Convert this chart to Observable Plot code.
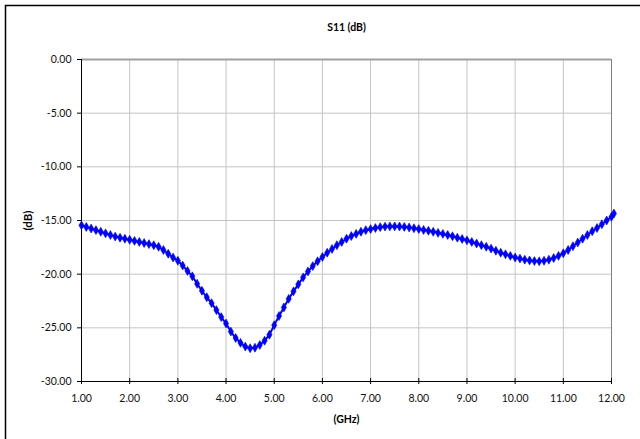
<!DOCTYPE html>
<html>
<head>
<meta charset="utf-8">
<script src="https://cdn.jsdelivr.net/npm/d3@7"></script>
<script src="https://cdn.jsdelivr.net/npm/@observablehq/plot@0.6"></script>
<style>
  html, body { margin: 0; padding: 0; background: #fff; }
  #chart svg { display: block; }
</style>
</head>
<body>
<div id="chart"></div>
<script>
const title = "S11 (dB)";
const xLabel = "(GHz)";
const yLabel = "(dB)";
const xTicks = [1, 2, 3, 4, 5, 6, 7, 8, 9, 10, 11, 12];
const yTicks = [0, -5, -10, -15, -20, -25, -30];
const xDomain = [1, 12];
const yDomain = [-30, 0];

const freqGHz = [
  1.0, 1.1, 1.2, 1.3, 1.4, 1.5, 1.6, 1.7, 1.8, 1.9,
  2.0, 2.1, 2.2, 2.3, 2.4, 2.5, 2.6, 2.7, 2.8, 2.9,
  3.0, 3.1, 3.2, 3.3, 3.4, 3.5, 3.6, 3.7, 3.8, 3.9,
  4.0, 4.1, 4.2, 4.3, 4.4, 4.5, 4.6, 4.7, 4.8, 4.9,
  5.0, 5.1, 5.2, 5.3, 5.4, 5.5, 5.6, 5.7, 5.8, 5.9,
  6.0, 6.1, 6.2, 6.3, 6.4, 6.5, 6.6, 6.7, 6.8, 6.9,
  7.0, 7.1, 7.2, 7.3, 7.4, 7.5, 7.6, 7.7, 7.8, 7.9,
  8.0, 8.1, 8.2, 8.3, 8.4, 8.5, 8.6, 8.7, 8.8, 8.9,
  9.0, 9.1, 9.2, 9.3, 9.4, 9.5, 9.6, 9.7, 9.8, 9.9,
  10.0, 10.1, 10.2, 10.3, 10.4, 10.5, 10.6, 10.7, 10.8, 10.9,
  11.0, 11.1, 11.2, 11.3, 11.4, 11.5, 11.6, 11.7, 11.8, 11.9,
  12.0, 12.05
];
const s11dB = [
  -15.45, -15.6, -15.75, -15.9, -16.05, -16.2, -16.35, -16.5, -16.6, -16.7,
  -16.8, -16.9, -17.0, -17.1, -17.2, -17.3, -17.45, -17.75, -18.1, -18.45,
  -18.75, -19.2, -19.7, -20.2, -20.9, -21.55, -22.15, -22.7, -23.35, -24.0,
  -24.6, -25.35, -25.95, -26.4, -26.75, -26.9, -26.85, -26.6, -26.2, -25.65,
  -24.75, -23.9, -23.1, -22.3, -21.6, -20.95, -20.3, -19.75, -19.25, -18.8,
  -18.4, -18.0, -17.65, -17.3, -17.0, -16.7, -16.45, -16.25, -16.05, -15.9,
  -15.8, -15.7, -15.62, -15.57, -15.55, -15.55, -15.56, -15.6, -15.65, -15.72,
  -15.8, -15.88, -15.96, -16.05, -16.15, -16.25, -16.35, -16.47, -16.6, -16.72,
  -16.85, -17.0, -17.15, -17.3, -17.45, -17.62, -17.82, -18.0, -18.15, -18.3,
  -18.45, -18.55, -18.65, -18.72, -18.78, -18.8, -18.75, -18.65, -18.5, -18.3,
  -18.05, -17.75, -17.4, -17.05, -16.7, -16.35, -16.0, -15.7, -15.35, -15.0,
  -14.65, -14.35
];

const data = freqGHz.map((f, i) => ({f, v: s11dB[i]}));
const fmt = d => d.toFixed(2);
const font = "Lato, 'Open Sans', sans-serif";

const chart = Plot.plot({
  width: 640,
  height: 439,
  marginLeft: 81,
  marginRight: 29,
  marginTop: 59,
  marginBottom: 58,
  style: {fontFamily: font, fontSize: "10.5px", color: "#111", background: "#fff"},
  x: {domain: xDomain, ticks: xTicks, tickFormat: fmt},
  y: {domain: yDomain, ticks: yTicks, tickFormat: fmt},
  marks: [
    Plot.gridX(xTicks, {stroke: "#c4c4c4", strokeOpacity: 1, strokeWidth: 1}),
    Plot.gridY(yTicks, {stroke: "#c4c4c4", strokeOpacity: 1, strokeWidth: 1}),
    Plot.ruleY([yDomain[1]], {stroke: "#a0a0a0", strokeWidth: 2}),
    Plot.ruleX([xDomain[1]], {stroke: "#808080", strokeWidth: 1}),
    Plot.axisY(yTicks, {anchor: "left", tickSize: 4, tickPadding: 6, tickFormat: fmt, label: null, stroke: "#000", fill: "#111"}),
    Plot.axisX(xTicks, {anchor: "bottom", tickSize: 6, dy: -3, tickPadding: 10, tickFormat: fmt, label: null, stroke: "#000", fill: "#111"}),
    Plot.ruleX([xDomain[0]], {stroke: "#000", strokeWidth: 1}),
    Plot.ruleY([yDomain[0]], {stroke: "#000", strokeWidth: 1}),
    Plot.line(data, {x: "f", y: "v", stroke: "#0000ff", strokeWidth: 2}),
    Plot.dot(data, {x: "f", y: "v", symbol: "diamond", r: 2.7, fill: "#0000ff", stroke: "#0000ff", strokeWidth: 0.6}),
    Plot.text([title], {frameAnchor: "top", dy: -36, fontWeight: "bold", fontSize: 10.5, fill: "#000"}),
    Plot.text([xLabel], {frameAnchor: "bottom", dy: 41, fontWeight: "bold", fontSize: 10.5, fill: "#000"}),
    Plot.text([yLabel], {frameAnchor: "left", textAnchor: "middle", dx: -53, rotate: -90, fontWeight: "bold", fontSize: 11.5, fill: "#000"})
  ]
});

const svg = d3.select(chart);
svg.append("path")
  .attr("d", "M5.5,439 V5.5 H640")
  .attr("fill", "none")
  .attr("stroke", "#000")
  .attr("stroke-width", 1.5);

document.getElementById("chart").appendChild(chart);
</script>
</body>
</html>
